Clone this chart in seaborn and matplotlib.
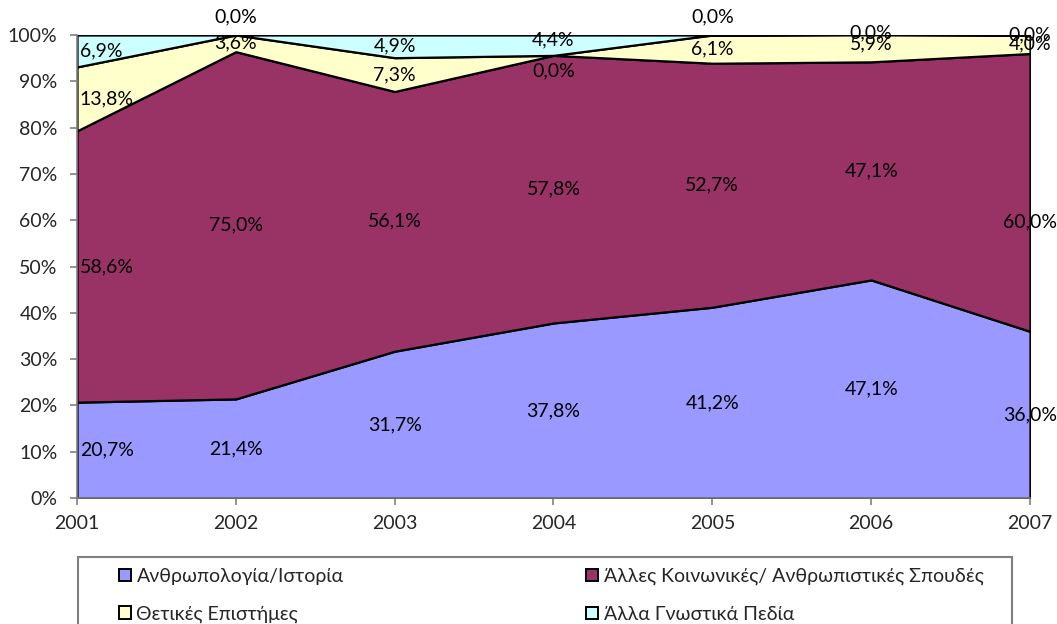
import numpy as np
import seaborn as sns
import matplotlib
matplotlib.use("Agg")
import matplotlib.pyplot as plt
from matplotlib.patches import Patch, Rectangle
from matplotlib.ticker import FuncFormatter

# data (percent of each year's total)
years = [2001, 2002, 2003, 2004, 2005, 2006, 2007]
series_names = [
    "Ανθρωπολογία/Ιστορία",
    "Άλλες Κοινωνικές/ Ανθρωπιστικές Σπουδές",
    "Θετικές Επιστήμες",
    "Άλλα Γνωστικά Πεδία",
]
anthro_hist = [20.7, 21.4, 31.7, 37.8, 41.2, 47.1, 36.0]
other_social = [58.6, 75.0, 56.1, 57.8, 52.7, 47.1, 60.0]
sciences = [13.8, 3.6, 7.3, 0.0, 6.1, 5.9, 4.0]
other_fields = [6.9, 0.0, 4.9, 4.4, 0.0, 0.0, 0.0]

colors = ["#9999FF", "#993366", "#FFFFCC", "#CCFFFF"]

# label nudges (points) where the labels collide
nudge = {(3, 1): 13, (3, 4): 13, (2, 3): -11, (3, 3): 4, (1, 6): -21, (2, 5): 3, (3, 5): 1}

FS = 14

sns.set_style("white")
plt.rcParams["font.family"] = ["Lato", "Open Sans", "DejaVu Sans"]
plt.rcParams["font.size"] = FS

fig = plt.figure(figsize=(10.57, 6.24), dpi=100)
ax = fig.add_axes([77 / 1057, 1 - 498 / 624, 953 / 1057, 463 / 624])

data = np.array([anthro_hist, other_social, sciences, other_fields])
ax.stackplot(years, data, colors=colors, edgecolor="black", linewidth=1.6)

ax.set_xlim(years[0], years[-1])
ax.set_ylim(0, 100)
ax.set_yticks(range(0, 101, 10))
ax.set_xticks(years)
ax.yaxis.set_major_formatter(FuncFormatter(lambda v, p: f"{int(v)}%"))
ax.tick_params(axis="y", length=5, width=1.2, color="#808080", pad=9, left=True, labelsize=FS)
ax.tick_params(axis="x", length=5, width=1.2, color="#808080", pad=7, bottom=True, labelsize=FS)
for s in ["top", "right"]:
    ax.spines[s].set_visible(False)
for s in ["left", "bottom"]:
    ax.spines[s].set_color("#808080")
    ax.spines[s].set_linewidth(1.2)

# value labels at the middle of each band
cum = np.cumsum(data, axis=0)
for i in range(data.shape[0]):
    for j, yr in enumerate(years):
        mid = cum[i, j] - data[i, j] / 2
        txt = f"{data[i, j]:.1f}%".replace(".", ",")
        ha = "left" if j == 0 else "center"
        dx = 2 if j == 0 else 0
        ax.annotate(txt, (yr, mid), xytext=(dx, nudge.get((i, j), 0)),
                    textcoords="offset points", ha=ha, va="center",
                    fontsize=FS, color="black", annotation_clip=False)

# legend box
fig.patches.append(Rectangle((78 / 1057, -0.02), 934 / 1057, (624 - 557) / 624 + 0.02,
                             transform=fig.transFigure, fill=False,
                             edgecolor="#808080", linewidth=1.5))
handles = [Patch(facecolor=c, edgecolor="black", linewidth=1.4) for c in colors]
leg_kw = dict(frameon=False, loc="upper left", handlelength=0.6, handleheight=0.6,
              handletextpad=0.3, labelspacing=1.05, borderaxespad=0, borderpad=0,
              fontsize=FS)
leg1 = fig.legend([handles[0], handles[2]], [series_names[0], series_names[2]],
                  bbox_to_anchor=(119 / 1057, 1 - 568 / 624), **leg_kw)
leg2 = fig.legend([handles[1], handles[3]], [series_names[1], series_names[3]],
                  bbox_to_anchor=(586 / 1057, 1 - 568 / 624), **leg_kw)

fig.savefig("out.png", dpi=100)
